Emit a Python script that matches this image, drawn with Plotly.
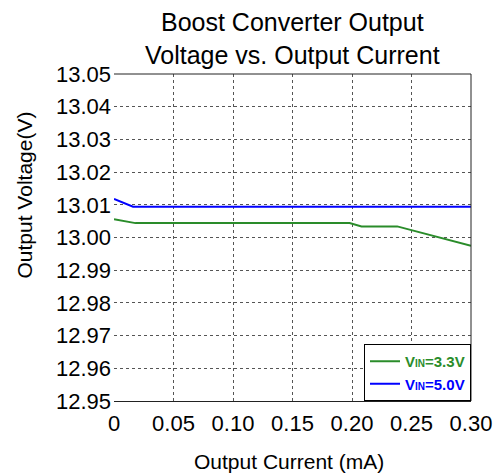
import plotly.graph_objects as go

# Output current (mA) and output voltage (V) for each input voltage
current_33 = [0.0, 0.018, 0.198, 0.208, 0.238, 0.30]
voltage_33 = [13.0056, 13.0044, 13.0044, 13.0034, 13.0034, 12.9975]

current_50 = [0.0, 0.016, 0.30]
voltage_50 = [13.0118, 13.0094, 13.0094]

x_ticks = [0, 0.05, 0.10, 0.15, 0.20, 0.25, 0.30]
x_tick_text = ["0", "0.05", "0.10", "0.15", "0.20", "0.25", "0.30"]
y_ticks = [12.95, 12.96, 12.97, 12.98, 12.99, 13.00, 13.01, 13.02, 13.03, 13.04, 13.05]
y_tick_text = ["%.2f" % v for v in y_ticks]

green = "#2a8c2a"
blue = "#0000ff"

W, H = 504, 475
M_L, M_R, M_T, M_B = 114, 27, 74, 74
plot_w = W - M_L - M_R
plot_h = H - M_T - M_B


def px_x(px):
    return (px - M_L) / plot_w


def px_y(py):
    return (H - M_B - py) / plot_h


fig = go.Figure()
fig.add_trace(go.Scatter(
    x=current_33, y=voltage_33, mode="lines",
    line=dict(color=green, width=2),
    name="<b><span style='color:%s'>V<span style='font-size:10px'>IN</span>=3.3V</span></b>" % green,
))
fig.add_trace(go.Scatter(
    x=current_50, y=voltage_50, mode="lines",
    line=dict(color=blue, width=2),
    name="<b><span style='color:%s'>V<span style='font-size:10px'>IN</span>=5.0V</span></b>" % blue,
))

grid_color = "#555555"
fig.update_layout(
    width=W, height=H,
    margin=dict(l=M_L, r=M_R, t=M_T, b=M_B),
    paper_bgcolor="white", plot_bgcolor="white",
    font=dict(family="Liberation Sans, Arial, sans-serif", color="black", size=20),
    showlegend=True,
    legend=dict(
        x=1, y=0, xanchor="right", yanchor="bottom",
        bgcolor="white", bordercolor="black", borderwidth=1,
        font=dict(size=15), itemwidth=30,
        tracegroupgap=0,
    ),
    xaxis=dict(
        range=[0, 0.30], tickvals=x_ticks, ticktext=x_tick_text,
        showgrid=True, gridcolor=grid_color, griddash="dot", gridwidth=1,
        zeroline=True, zerolinecolor="rgba(0,0,0,0)",
        showline=True, linecolor="#222222", linewidth=1,
        ticks="", ticklen=0, ticklabelstandoff=3,
        tickfont=dict(size=22),
    ),
    yaxis=dict(
        range=[12.95, 13.05], tickvals=y_ticks, ticktext=y_tick_text,
        showgrid=True, gridcolor=grid_color, griddash="dot", gridwidth=1,
        zeroline=False, showline=False,
        ticks="", ticklen=0, ticklabelstandoff=2,
        tickfont=dict(size=22),
    ),
    shapes=[
        dict(type="line", xref="paper", yref="paper", x0=0, x1=1, y0=1, y1=1,
             line=dict(color="#222222", width=1)),
        dict(type="line", xref="paper", yref="paper", x0=1, x1=1, y0=0, y1=1,
             line=dict(color="#222222", width=1)),
    ],
    annotations=[
        dict(text="Boost Converter Output<br>Voltage vs. Output Current",
             xref="paper", yref="paper", x=px_x(296), y=px_y(38),
             xanchor="center", yanchor="middle", showarrow=False,
             font=dict(size=25)),
        dict(text="Output Current (mA)",
             xref="paper", yref="paper", x=px_x(292), y=px_y(461),
             xanchor="center", yanchor="middle", showarrow=False,
             font=dict(size=21)),
        dict(text="Output Voltage(V)", textangle=-90,
             xref="paper", yref="paper", x=px_x(22), y=px_y(195),
             xanchor="center", yanchor="middle", showarrow=False,
             font=dict(size=21)),
    ],
)

fig.write_html("out.html")
